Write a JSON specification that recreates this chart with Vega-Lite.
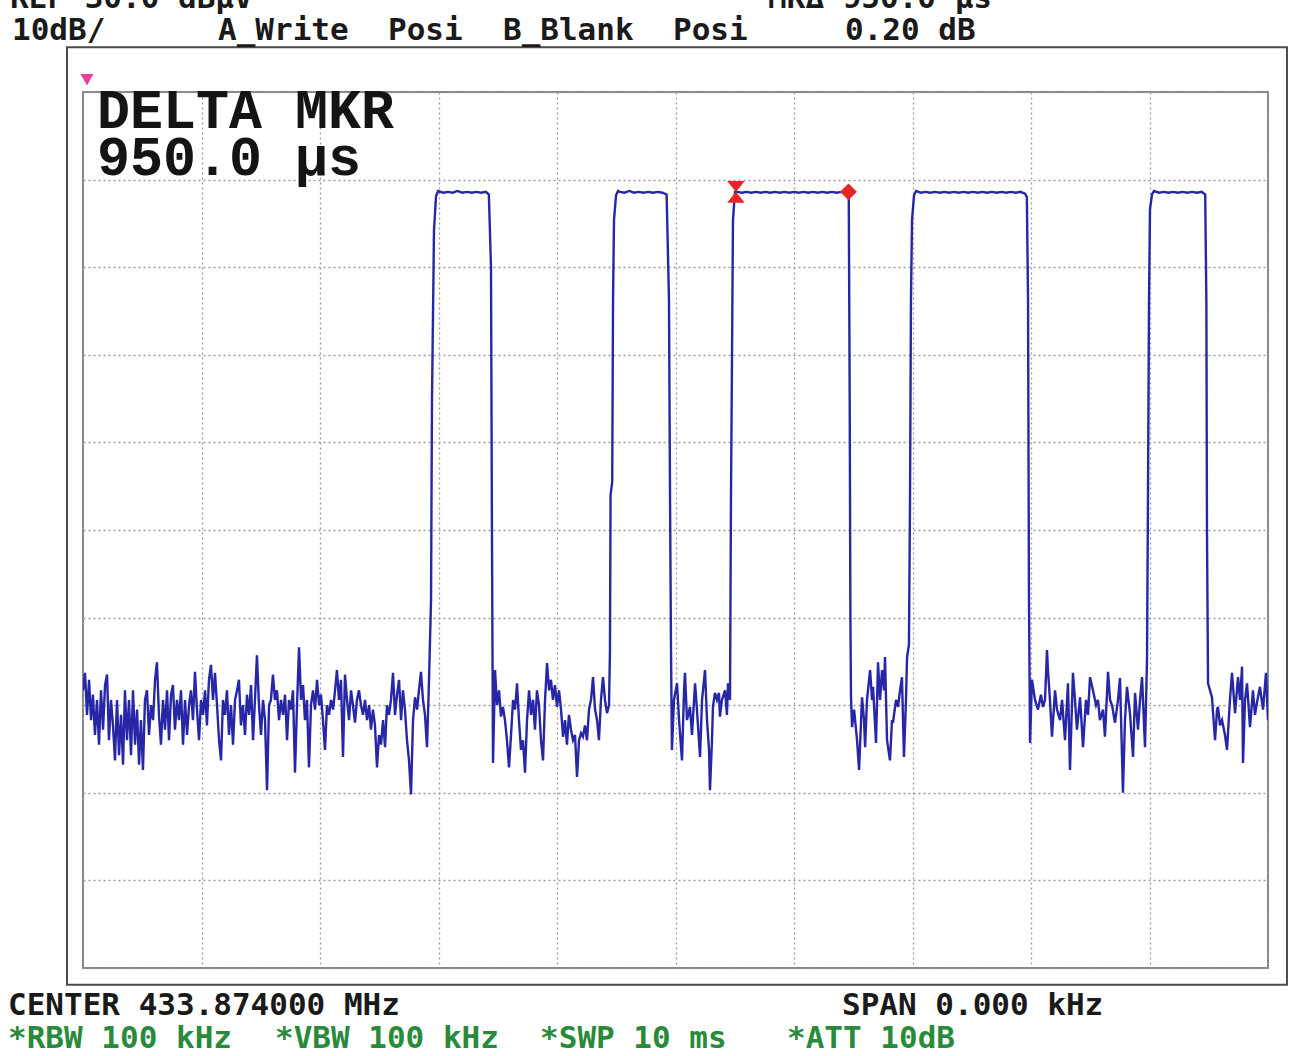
{
  "$schema": "https://vega.github.io/schema/vega-lite/v6.json",
  "width": 1185,
  "height": 876,
  "autosize": {"type": "none"},
  "padding": {"left": 83, "top": 92, "right": 24, "bottom": 88},
  "background": "#ffffff",
  "config": {"view": {"stroke": "#858585", "strokeWidth": 2}},
  "datasets": {
    "trace": [
      {"t":0.000,"v":-38.3},{"t":0.017,"v":-36.3},{"t":0.034,"v":-41.1},{"t":0.051,"v":-37.1},{"t":0.068,"v":-41.7},{"t":0.084,"v":-38.8},{"t":0.101,"v":-43.4},{"t":0.118,"v":-39.4},{"t":0.135,"v":-44.5},{"t":0.152,"v":-38.3},
      {"t":0.169,"v":-42.8},{"t":0.186,"v":-37.7},{"t":0.203,"v":-36.5},{"t":0.219,"v":-44.0},{"t":0.236,"v":-39.4},{"t":0.253,"v":-42.3},{"t":0.270,"v":-46.3},{"t":0.287,"v":-39.4},{"t":0.304,"v":-45.7},{"t":0.321,"v":-41.1},
      {"t":0.338,"v":-46.8},{"t":0.354,"v":-38.3},{"t":0.371,"v":-44.0},{"t":0.388,"v":-39.4},{"t":0.405,"v":-45.7},{"t":0.422,"v":-38.3},{"t":0.439,"v":-44.5},{"t":0.456,"v":-40.5},{"t":0.473,"v":-46.8},{"t":0.489,"v":-41.7},
      {"t":0.506,"v":-47.4},{"t":0.523,"v":-39.4},{"t":0.540,"v":-38.3},{"t":0.557,"v":-43.4},{"t":0.574,"v":-40.0},{"t":0.591,"v":-41.7},{"t":0.608,"v":-37.1},{"t":0.624,"v":-35.1},{"t":0.641,"v":-41.1},{"t":0.658,"v":-44.5},
      {"t":0.675,"v":-39.4},{"t":0.692,"v":-42.8},{"t":0.709,"v":-38.3},{"t":0.726,"v":-44.0},{"t":0.743,"v":-38.8},{"t":0.759,"v":-37.7},{"t":0.776,"v":-42.8},{"t":0.793,"v":-39.4},{"t":0.810,"v":-41.7},{"t":0.827,"v":-38.3},
      {"t":0.844,"v":-44.5},{"t":0.861,"v":-39.4},{"t":0.878,"v":-43.4},{"t":0.895,"v":-40.0},{"t":0.911,"v":-38.3},{"t":0.928,"v":-41.7},{"t":0.945,"v":-36.2},{"t":0.962,"v":-40.5},{"t":0.979,"v":-44.0},{"t":0.996,"v":-39.4},
      {"t":1.013,"v":-41.1},{"t":1.030,"v":-38.3},{"t":1.046,"v":-42.3},{"t":1.063,"v":-37.1},{"t":1.080,"v":-35.4},{"t":1.097,"v":-39.4},{"t":1.114,"v":-36.3},{"t":1.131,"v":-40.0},{"t":1.148,"v":-44.0},{"t":1.165,"v":-46.3},
      {"t":1.181,"v":-39.4},{"t":1.198,"v":-41.1},{"t":1.215,"v":-38.3},{"t":1.232,"v":-43.4},{"t":1.249,"v":-40.0},{"t":1.266,"v":-44.5},{"t":1.283,"v":-39.4},{"t":1.300,"v":-38.3},{"t":1.316,"v":-37.1},{"t":1.333,"v":-42.3},
      {"t":1.350,"v":-40.0},{"t":1.367,"v":-43.4},{"t":1.384,"v":-38.8},{"t":1.401,"v":-41.1},{"t":1.418,"v":-37.7},{"t":1.435,"v":-44.0},{"t":1.451,"v":-39.4},{"t":1.468,"v":-34.3},{"t":1.485,"v":-40.0},{"t":1.502,"v":-43.4},
      {"t":1.519,"v":-39.4},{"t":1.536,"v":-41.7},{"t":1.553,"v":-49.7},{"t":1.570,"v":-40.0},{"t":1.586,"v":-39.4},{"t":1.603,"v":-36.5},{"t":1.620,"v":-39.4},{"t":1.637,"v":-38.3},{"t":1.654,"v":-41.7},{"t":1.671,"v":-39.4},
      {"t":1.688,"v":-41.1},{"t":1.705,"v":-38.8},{"t":1.722,"v":-44.0},{"t":1.738,"v":-39.4},{"t":1.755,"v":-40.5},{"t":1.772,"v":-38.3},{"t":1.789,"v":-47.7},{"t":1.806,"v":-40.0},{"t":1.823,"v":-33.4},{"t":1.840,"v":-39.4},
      {"t":1.857,"v":-37.7},{"t":1.873,"v":-41.7},{"t":1.890,"v":-39.4},{"t":1.907,"v":-47.1},{"t":1.924,"v":-40.0},{"t":1.941,"v":-38.3},{"t":1.958,"v":-40.5},{"t":1.975,"v":-37.1},{"t":1.992,"v":-40.0},{"t":2.008,"v":-38.8},
      {"t":2.025,"v":-41.7},{"t":2.042,"v":-45.1},{"t":2.059,"v":-40.0},{"t":2.076,"v":-41.1},{"t":2.093,"v":-39.4},{"t":2.110,"v":-40.5},{"t":2.127,"v":-38.3},{"t":2.143,"v":-36.0},{"t":2.160,"v":-39.4},{"t":2.177,"v":-37.1},
      {"t":2.194,"v":-45.9},{"t":2.211,"v":-36.5},{"t":2.228,"v":-39.4},{"t":2.245,"v":-41.7},{"t":2.262,"v":-38.3},{"t":2.278,"v":-40.0},{"t":2.295,"v":-42.0},{"t":2.312,"v":-39.4},{"t":2.329,"v":-38.3},{"t":2.346,"v":-40.0},
      {"t":2.363,"v":-41.1},{"t":2.380,"v":-39.4},{"t":2.397,"v":-41.7},{"t":2.414,"v":-40.0},{"t":2.430,"v":-42.8},{"t":2.447,"v":-40.5},{"t":2.464,"v":-42.3},{"t":2.481,"v":-47.1},{"t":2.498,"v":-43.4},{"t":2.515,"v":-44.5},
      {"t":2.532,"v":-41.7},{"t":2.549,"v":-44.8},{"t":2.565,"v":-40.0},{"t":2.582,"v":-41.1},{"t":2.599,"v":-39.4},{"t":2.616,"v":-36.3},{"t":2.633,"v":-41.1},{"t":2.650,"v":-38.8},{"t":2.667,"v":-37.1},{"t":2.684,"v":-41.7},
      {"t":2.700,"v":-38.3},{"t":2.717,"v":-40.5},{"t":2.734,"v":-44.0},{"t":2.751,"v":-46.3},{"t":2.768,"v":-50.2},{"t":2.785,"v":-41.7},{"t":2.802,"v":-39.1},{"t":2.819,"v":-40.5},{"t":2.835,"v":-38.3},{"t":2.852,"v":-36.2},
      {"t":2.869,"v":-39.4},{"t":2.886,"v":-41.1},{"t":2.903,"v":-44.8},{"t":2.920,"v":-37.1},
      {"t":2.937,"v":-28.0},{"t":2.945,"v":-5.2},{"t":2.962,"v":14.2},{"t":2.979,"v":18.1},{"t":2.996,"v":18.7},
      {"t":3.04,"v":18.5},{"t":3.08,"v":18.6},{"t":3.12,"v":18.5},{"t":3.16,"v":18.7},{"t":3.20,"v":18.5},{"t":3.24,"v":18.6},{"t":3.28,"v":18.5},{"t":3.32,"v":18.6},{"t":3.36,"v":18.5},{"t":3.40,"v":18.6},{"t":3.425,"v":18.3},
      {"t":3.443,"v":10.0},{"t":3.451,"v":-20.0},{"t":3.460,"v":-46.6},
      {"t":3.477,"v":-36.0},{"t":3.494,"v":-40.0},{"t":3.511,"v":-38.3},{"t":3.527,"v":-41.3},{"t":3.544,"v":-40.2},{"t":3.561,"v":-41.7},{"t":3.578,"v":-44.0},{"t":3.595,"v":-47.1},{"t":3.612,"v":-43.4},{"t":3.629,"v":-39.4},
      {"t":3.646,"v":-40.5},{"t":3.663,"v":-37.5},{"t":3.679,"v":-41.7},{"t":3.696,"v":-45.1},{"t":3.713,"v":-44.0},{"t":3.730,"v":-47.7},{"t":3.747,"v":-41.7},{"t":3.764,"v":-38.3},{"t":3.781,"v":-41.1},{"t":3.798,"v":-39.4},
      {"t":3.814,"v":-42.8},{"t":3.831,"v":-38.3},{"t":3.848,"v":-40.0},{"t":3.865,"v":-44.0},{"t":3.882,"v":-46.3},{"t":3.899,"v":-39.4},{"t":3.916,"v":-35.2},{"t":3.933,"v":-38.3},{"t":3.949,"v":-37.1},{"t":3.966,"v":-39.4},
      {"t":3.983,"v":-37.7},{"t":4.000,"v":-40.2},{"t":4.017,"v":-38.3},{"t":4.034,"v":-40.5},{"t":4.051,"v":-43.6},{"t":4.068,"v":-41.7},{"t":4.084,"v":-44.5},{"t":4.101,"v":-41.1},{"t":4.118,"v":-42.8},{"t":4.135,"v":-44.0},
      {"t":4.152,"v":-43.4},{"t":4.169,"v":-48.2},{"t":4.186,"v":-44.0},{"t":4.203,"v":-43.2},{"t":4.219,"v":-43.6},{"t":4.236,"v":-42.3},{"t":4.253,"v":-44.0},{"t":4.270,"v":-40.5},{"t":4.287,"v":-39.4},{"t":4.304,"v":-36.8},
      {"t":4.321,"v":-40.5},{"t":4.338,"v":-41.7},{"t":4.354,"v":-44.0},{"t":4.371,"v":-39.4},{"t":4.388,"v":-36.8},{"t":4.405,"v":-39.4},{"t":4.422,"v":-40.9},{"t":4.439,"v":-40.0},
      {"t":4.447,"v":-33.7},{"t":4.452,"v":-16.0},{"t":4.466,"v":-14.5},{"t":4.473,"v":6.3},{"t":4.481,"v":15.4},{"t":4.498,"v":18.2},{"t":4.515,"v":18.7},
      {"t":4.53,"v":18.6},{"t":4.57,"v":18.5},{"t":4.61,"v":18.7},{"t":4.65,"v":18.5},{"t":4.69,"v":18.6},{"t":4.73,"v":18.5},{"t":4.77,"v":18.6},{"t":4.81,"v":18.5},{"t":4.85,"v":18.6},{"t":4.89,"v":18.5},{"t":4.925,"v":18.3},
      {"t":4.945,"v":6.3},{"t":4.954,"v":-16.6},{"t":4.962,"v":-33.7},{"t":4.970,"v":-45.1},
      {"t":4.987,"v":-39.4},{"t":5.013,"v":-37.5},{"t":5.030,"v":-41.7},{"t":5.055,"v":-46.3},{"t":5.072,"v":-38.3},{"t":5.080,"v":-36.3},{"t":5.097,"v":-41.7},{"t":5.122,"v":-40.2},{"t":5.139,"v":-43.4},{"t":5.165,"v":-37.5},
      {"t":5.181,"v":-40.5},{"t":5.207,"v":-45.9},{"t":5.224,"v":-39.4},{"t":5.249,"v":-36.0},{"t":5.266,"v":-41.7},{"t":5.283,"v":-45.1},{"t":5.291,"v":-49.7},{"t":5.308,"v":-44.0},{"t":5.316,"v":-40.2},{"t":5.333,"v":-38.6},
      {"t":5.350,"v":-39.4},{"t":5.367,"v":-38.6},{"t":5.375,"v":-41.3},{"t":5.392,"v":-39.4},{"t":5.418,"v":-38.3},{"t":5.434,"v":-41.1},{"t":5.443,"v":-37.5},{"t":5.460,"v":-39.4},
      {"t":5.468,"v":-16.6},{"t":5.477,"v":0.0},{"t":5.485,"v":15.4},{"t":5.502,"v":18.6},
      {"t":5.52,"v":18.6},{"t":5.56,"v":18.5},{"t":5.60,"v":18.6},{"t":5.64,"v":18.5},{"t":5.68,"v":18.6},{"t":5.72,"v":18.5},{"t":5.76,"v":18.6},{"t":5.80,"v":18.5},{"t":5.84,"v":18.6},{"t":5.88,"v":18.5},
      {"t":5.92,"v":18.6},{"t":5.96,"v":18.5},{"t":6.00,"v":18.6},{"t":6.04,"v":18.5},{"t":6.08,"v":18.6},{"t":6.12,"v":18.5},{"t":6.16,"v":18.6},{"t":6.20,"v":18.5},{"t":6.24,"v":18.6},{"t":6.28,"v":18.5},
      {"t":6.32,"v":18.6},{"t":6.36,"v":18.5},{"t":6.40,"v":18.6},{"t":6.44,"v":18.5},{"t":6.462,"v":18.6},
      {"t":6.470,"v":-5.0},{"t":6.476,"v":-30.0},{"t":6.481,"v":-39.1},
      {"t":6.490,"v":-42.5},{"t":6.507,"v":-40.5},{"t":6.532,"v":-44.0},{"t":6.549,"v":-47.4},{"t":6.574,"v":-39.1},{"t":6.591,"v":-41.7},{"t":6.600,"v":-44.8},{"t":6.616,"v":-39.4},{"t":6.642,"v":-36.0},{"t":6.659,"v":-39.4},
      {"t":6.667,"v":-37.9},{"t":6.692,"v":-44.3},{"t":6.709,"v":-35.1},{"t":6.726,"v":-39.4},{"t":6.743,"v":-36.0},{"t":6.760,"v":-38.3},{"t":6.768,"v":-34.5},{"t":6.785,"v":-44.0},{"t":6.810,"v":-46.3},{"t":6.827,"v":-41.7},
      {"t":6.835,"v":-42.0},{"t":6.861,"v":-39.4},{"t":6.878,"v":-40.2},{"t":6.895,"v":-38.3},{"t":6.911,"v":-36.8},{"t":6.928,"v":-45.9},{"t":6.945,"v":-39.4},{"t":6.954,"v":-34.5},{"t":6.970,"v":-33.1},
      {"t":6.979,"v":-16.6},{"t":6.987,"v":6.3},{"t":6.996,"v":15.4},{"t":7.013,"v":18.2},{"t":7.030,"v":18.7},
      {"t":7.07,"v":18.5},{"t":7.11,"v":18.6},{"t":7.15,"v":18.5},{"t":7.19,"v":18.6},{"t":7.23,"v":18.5},{"t":7.27,"v":18.6},{"t":7.31,"v":18.5},{"t":7.35,"v":18.6},{"t":7.39,"v":18.5},{"t":7.43,"v":18.6},
      {"t":7.47,"v":18.5},{"t":7.51,"v":18.6},{"t":7.55,"v":18.5},{"t":7.59,"v":18.6},{"t":7.63,"v":18.5},{"t":7.67,"v":18.6},{"t":7.71,"v":18.5},{"t":7.75,"v":18.6},{"t":7.79,"v":18.5},{"t":7.83,"v":18.6},
      {"t":7.87,"v":18.5},{"t":7.91,"v":18.6},{"t":7.95,"v":18.4},{"t":7.965,"v":18.0},
      {"t":7.975,"v":6.3},{"t":7.983,"v":-28.0},{"t":7.992,"v":-44.3},
      {"t":8.008,"v":-37.1},{"t":8.034,"v":-39.4},{"t":8.059,"v":-40.5},{"t":8.084,"v":-38.8},{"t":8.101,"v":-40.2},{"t":8.118,"v":-39.4},{"t":8.135,"v":-33.7},{"t":8.143,"v":-36.0},{"t":8.160,"v":-39.4},{"t":8.177,"v":-43.6},
      {"t":8.203,"v":-38.3},{"t":8.219,"v":-40.5},{"t":8.245,"v":-41.7},{"t":8.262,"v":-39.4},{"t":8.287,"v":-44.0},{"t":8.312,"v":-37.5},{"t":8.329,"v":-47.4},{"t":8.354,"v":-36.3},{"t":8.371,"v":-39.4},{"t":8.388,"v":-42.8},
      {"t":8.414,"v":-39.1},{"t":8.439,"v":-44.8},{"t":8.464,"v":-39.4},{"t":8.481,"v":-41.1},{"t":8.498,"v":-36.8},{"t":8.523,"v":-38.3},{"t":8.549,"v":-40.0},{"t":8.565,"v":-39.4},{"t":8.582,"v":-41.7},{"t":8.608,"v":-40.5},
      {"t":8.624,"v":-43.6},{"t":8.650,"v":-36.2},{"t":8.667,"v":-39.4},{"t":8.684,"v":-40.0},{"t":8.709,"v":-42.0},{"t":8.734,"v":-39.4},{"t":8.751,"v":-36.9},{"t":8.776,"v":-50.0},{"t":8.793,"v":-41.7},{"t":8.810,"v":-37.9},
      {"t":8.835,"v":-40.9},{"t":8.861,"v":-45.9},{"t":8.878,"v":-38.6},{"t":8.903,"v":-42.8},{"t":8.920,"v":-39.4},{"t":8.937,"v":-36.8},{"t":8.962,"v":-44.8},{"t":8.979,"v":-34.8},
      {"t":8.987,"v":-16.6},{"t":8.996,"v":6.3},{"t":9.004,"v":16.6},{"t":9.021,"v":18.3},{"t":9.038,"v":18.7},
      {"t":9.08,"v":18.5},{"t":9.12,"v":18.6},{"t":9.16,"v":18.5},{"t":9.20,"v":18.6},{"t":9.24,"v":18.5},{"t":9.28,"v":18.6},{"t":9.32,"v":18.5},{"t":9.36,"v":18.6},{"t":9.40,"v":18.5},{"t":9.44,"v":18.6},{"t":9.47,"v":18.3},
      {"t":9.480,"v":6.0},{"t":9.485,"v":-20.0},{"t":9.494,"v":-37.5},
      {"t":9.511,"v":-38.3},{"t":9.527,"v":-39.1},{"t":9.553,"v":-44.0},{"t":9.570,"v":-40.5},{"t":9.578,"v":-40.2},{"t":9.595,"v":-42.3},{"t":9.612,"v":-41.7},{"t":9.637,"v":-43.4},{"t":9.654,"v":-45.1},{"t":9.679,"v":-39.4},
      {"t":9.696,"v":-36.3},{"t":9.722,"v":-40.9},{"t":9.738,"v":-38.3},{"t":9.747,"v":-36.8},{"t":9.764,"v":-39.4},{"t":9.781,"v":-35.6},{"t":9.789,"v":-46.6},{"t":9.806,"v":-39.4},{"t":9.823,"v":-37.5},{"t":9.848,"v":-42.5},
      {"t":9.873,"v":-38.3},{"t":9.890,"v":-41.1},{"t":9.907,"v":-39.7},{"t":9.932,"v":-37.9},{"t":9.958,"v":-40.5},{"t":9.983,"v":-36.3},{"t":10.000,"v":-41.7}
    ],
    "markers": [
      {"kind":"ref","t":5.51,"v":18.6},
      {"kind":"delta","t":6.46,"v":18.6},
      {"kind":"reflevel","t":0.034,"v":31.4}
    ],
    "frame": [
      {"t0":-0.135,"t1":10.16,"v0":35.1,"v1":-71.9}
    ],
    "labels": [
      {"group":"hdr","t":-0.616,"v":39.6,"label":"REF 30.0 dBμV"},
      {"group":"hdr","t":5.781,"v":39.6,"label":"MKΔ 950.0 μs"},
      {"group":"hdr","t":-0.599,"v":35.9,"label":"10dB/"},
      {"group":"hdr","t":1.139,"v":35.9,"label":"A_Write"},
      {"group":"hdr","t":2.574,"v":35.9,"label":"Posi"},
      {"group":"hdr","t":3.544,"v":35.9,"label":"B_Blank"},
      {"group":"hdr","t":4.979,"v":35.9,"label":"Posi"},
      {"group":"hdr","t":6.43,"v":35.9,"label":"0.20 dB"},
      {"group":"hdr","t":-0.633,"v":-75.4,"label":"CENTER 433.874000 MHz"},
      {"group":"hdr","t":6.405,"v":-75.4,"label":"SPAN 0.000 kHz"},
      {"group":"grn","t":-0.633,"v":-79.1,"label":"*RBW 100 kHz"},
      {"group":"grn","t":1.62,"v":-79.1,"label":"*VBW 100 kHz"},
      {"group":"grn","t":3.857,"v":-79.1,"label":"*SWP 10 ms"},
      {"group":"grn","t":5.941,"v":-79.1,"label":"*ATT 10dB"},
      {"group":"big","t":0.118,"v":25.9,"label":"DELTA MKR"},
      {"group":"big","t":0.118,"v":20.5,"label":"950.0 μs"}
    ]
  },
  "layer": [
    {
      "data": {"name": "frame"},
      "mark": {"type": "rect", "fill": null, "fillOpacity": 0, "stroke": "#4a4a4a", "strokeWidth": 2, "clip": false},
      "encoding": {
        "x": {"field": "t0", "type": "quantitative", "scale": {"domain": [0, 10], "nice": false, "zero": false},
              "axis": {"values": [0,1,2,3,4,5,6,7,8,9,10], "grid": true, "gridColor": "#9c9c9c", "gridDash": [2, 3], "gridWidth": 1.3, "labels": false, "ticks": false, "domain": false, "title": null}},
        "x2": {"field": "t1"},
        "y": {"field": "v0", "type": "quantitative", "scale": {"domain": [-70, 30], "nice": false, "zero": false},
              "axis": {"values": [-70,-60,-50,-40,-30,-20,-10,0,10,20,30], "grid": true, "gridColor": "#9c9c9c", "gridDash": [2, 3], "gridWidth": 1.3, "labels": false, "ticks": false, "domain": false, "title": null}},
        "y2": {"field": "v1"}
      }
    },
    {
      "data": {"name": "trace"},
      "mark": {"type": "line", "color": "#2626a6", "strokeWidth": 2.4, "clip": true},
      "encoding": {
        "x": {"field": "t", "type": "quantitative"},
        "y": {"field": "v", "type": "quantitative"}
      }
    },
    {
      "data": {"name": "markers"},
      "transform": [{"filter": "datum.kind === 'ref'"}],
      "mark": {"type": "point", "shape": "M-0.8,-1L0.8,-1L-0.8,1L0.8,1Z", "filled": true, "color": "#e82525", "size": 480, "opacity": 1},
      "encoding": {
        "x": {"field": "t", "type": "quantitative"},
        "y": {"field": "v", "type": "quantitative"}
      }
    },
    {
      "data": {"name": "markers"},
      "transform": [{"filter": "datum.kind === 'delta'"}],
      "mark": {"type": "point", "shape": "diamond", "filled": true, "color": "#e82525", "size": 280, "opacity": 1},
      "encoding": {
        "x": {"field": "t", "type": "quantitative"},
        "y": {"field": "v", "type": "quantitative"}
      }
    },
    {
      "data": {"name": "markers"},
      "transform": [{"filter": "datum.kind === 'reflevel'"}],
      "mark": {"type": "point", "shape": "triangle-down", "filled": true, "color": "#e8409c", "size": 170, "opacity": 1, "clip": false},
      "encoding": {
        "x": {"field": "t", "type": "quantitative"},
        "y": {"field": "v", "type": "quantitative"}
      }
    },
    {
      "data": {"name": "labels"},
      "transform": [{"filter": "datum.group === 'hdr'"}],
      "mark": {"type": "text", "align": "left", "baseline": "alphabetic", "font": "DejaVu Sans Mono", "fontSize": 31, "fontWeight": "bold", "color": "#1a1a1a"},
      "encoding": {
        "x": {"field": "t", "type": "quantitative"},
        "y": {"field": "v", "type": "quantitative"},
        "text": {"field": "label"}
      }
    },
    {
      "data": {"name": "labels"},
      "transform": [{"filter": "datum.group === 'grn'"}],
      "mark": {"type": "text", "align": "left", "baseline": "alphabetic", "font": "DejaVu Sans Mono", "fontSize": 31, "fontWeight": "bold", "color": "#2a8a3c"},
      "encoding": {
        "x": {"field": "t", "type": "quantitative"},
        "y": {"field": "v", "type": "quantitative"},
        "text": {"field": "label"}
      }
    },
    {
      "data": {"name": "labels"},
      "transform": [{"filter": "datum.group === 'big'"}],
      "mark": {"type": "text", "align": "left", "baseline": "alphabetic", "font": "Liberation Mono", "fontSize": 55, "fontWeight": "bold", "color": "#141414"},
      "encoding": {
        "x": {"field": "t", "type": "quantitative"},
        "y": {"field": "v", "type": "quantitative"},
        "text": {"field": "label"}
      }
    }
  ]
}
